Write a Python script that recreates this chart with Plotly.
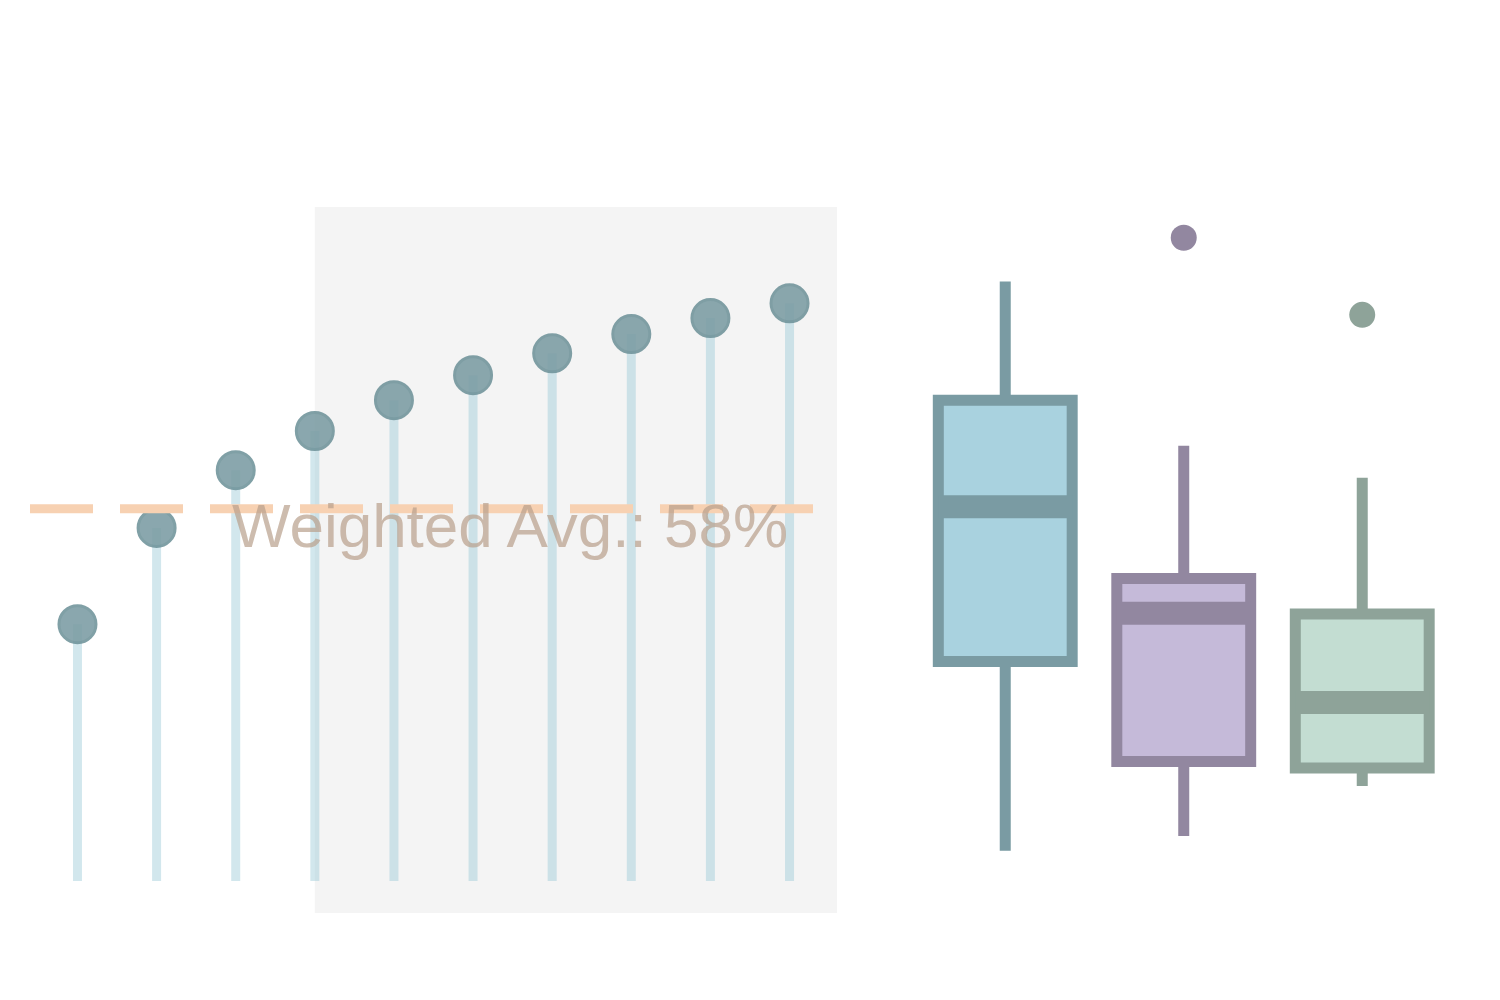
import plotly.graph_objects as go

# lollipop data (cumulative share, %)
steps = list(range(10))
share = [40, 55, 64, 70.1, 74.9, 78.8, 82.2, 85.2, 87.7, 90.0]
weighted_avg = 58
highlight_from = 3

# box statistics per group
box_pos = [0, 1, 2]
box_q1 = [34.2, 18.6, 17.6]
box_median = [58.3, 41.7, 27.8]
box_q3 = [74.9, 47.1, 41.6]
box_low = [4.7, 7.0, 14.8]
box_high = [93.4, 67.8, 62.8]
outlier_pos = [1, 2]
outlier_val = [100.2, 88.2]

box_fill = ["#a9d2df", "#c5bad9", "#c3ddd2"]
box_line = ["#7a9ba3", "#9287a0", "#8ea399"]
box_w = 0.75

fig = go.Figure()

# stems
sx, sy = [], []
for x, v in zip(steps, share):
    sx += [x, x, None]
    sy += [0, v, None]
fig.add_trace(go.Scatter(x=sx, y=sy, mode="lines", line=dict(color="rgba(160,205,218,0.48)", width=9),
                         hoverinfo="skip", xaxis="x", yaxis="y"))
# heads
fig.add_trace(go.Scatter(x=steps, y=share, mode="markers",
                         marker=dict(size=37, color="#7b9ca3", opacity=0.88,
                                     line=dict(color="#6f939a", width=3)),
                         xaxis="x", yaxis="y"))

# boxes
for i in range(3):
    fig.add_trace(go.Box(x=[box_pos[i]], q1=[box_q1[i]], median=[box_median[i]], q3=[box_q3[i]],
                         lowerfence=[box_low[i]], upperfence=[box_high[i]], width=box_w,
                         fillcolor=box_fill[i], line=dict(color=box_line[i], width=11),
                         whiskerwidth=0, boxpoints=False, xaxis="x2", yaxis="y2"))
    fig.add_shape(type="line", xref="x2", yref="y2",
                  x0=box_pos[i] - box_w / 2, x1=box_pos[i] + box_w / 2,
                  y0=box_median[i], y1=box_median[i],
                  line=dict(color=box_line[i], width=23))

for p, v in zip(outlier_pos, outlier_val):
    fig.add_trace(go.Scatter(x=[p], y=[v], mode="markers",
                             marker=dict(size=26, color=box_line[p]), xaxis="x2", yaxis="y2"))

# highlighted region
fig.add_shape(type="rect", xref="x", yref="y domain", x0=highlight_from, x1=9.6, y0=0, y1=1,
              fillcolor="#f4f4f4", line=dict(width=0), layer="below")

# weighted average line
fig.add_shape(type="line", xref="x domain", yref="y", x0=0, x1=1, y0=weighted_avg, y1=weighted_avg,
              line=dict(color="#f7d1b2", width=9, dash="63px,27px"))
fig.add_annotation(x=9, y=weighted_avg, xref="x", yref="y", xanchor="right", yanchor="top",
                   text=f"Weighted Avg.: {weighted_avg}%", showarrow=False, opacity=0.7,
                   yshift=20, font=dict(family="Liberation Sans, Arial", size=62, color="#b9a08c"))

fig.update_layout(
    width=1500, height=1000,
    margin=dict(l=0, r=0, t=0, b=0),
    paper_bgcolor="white", plot_bgcolor="white",
    showlegend=False,
    xaxis=dict(domain=[0.01467, 0.55267], range=[-0.6, 9.6], visible=False),
    yaxis=dict(domain=[0.095, 0.801], range=[-5, 105], visible=False),
    xaxis2=dict(domain=[0.60533, 0.96233], range=[-0.5, 2.5], visible=False),
    yaxis2=dict(domain=[0.095, 0.801], range=[-5, 105], visible=False, anchor="x2"),
)

fig.write_html("out.html")
